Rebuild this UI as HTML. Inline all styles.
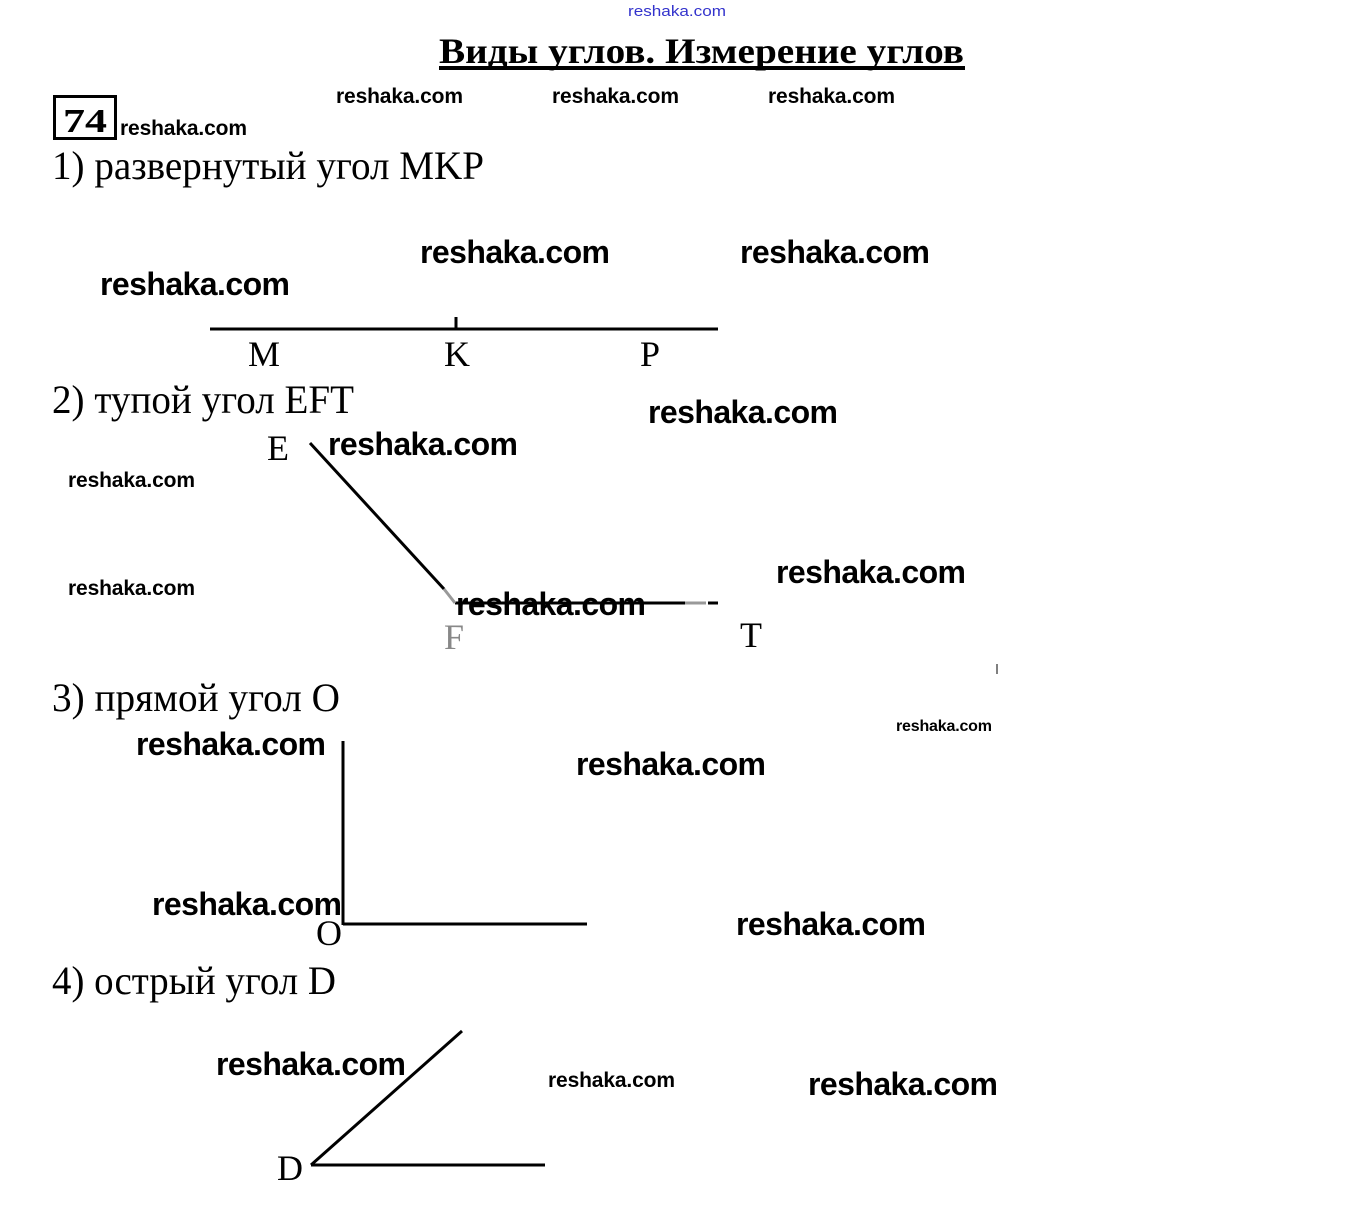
<!DOCTYPE html>
<html><head><meta charset="utf-8"><style>body{margin:0;background:#fff}svg{display:block}
.s{font-family:"Liberation Serif",serif;fill:#000}
.w{font-family:"Liberation Sans",sans-serif;font-weight:bold;fill:#000}
</style></head><body>
<svg width="1352" height="1225" viewBox="0 0 1352 1225" xmlns="http://www.w3.org/2000/svg">
<text x="628" y="16" font-family="Liberation Sans,sans-serif" font-size="15" fill="#3333cc" textLength="98" lengthAdjust="spacingAndGlyphs">reshaka.com</text>
<text class="s" x="439" y="63" font-size="36" font-weight="bold" textLength="525" lengthAdjust="spacingAndGlyphs">Виды углов. Измерение углов</text>
<rect x="439" y="66" width="526" height="4" fill="#000"/>
<rect x="54.5" y="96.5" width="61" height="42" fill="none" stroke="#000" stroke-width="3"/>
<text class="s" x="63" y="132" font-size="34" font-weight="bold" textLength="44" lengthAdjust="spacingAndGlyphs">74</text>
<g class="s" font-size="40">
<text x="52" y="179" textLength="432" lengthAdjust="spacingAndGlyphs">1) развернутый угол MKP</text>
<text x="52" y="413" textLength="302" lengthAdjust="spacingAndGlyphs">2) тупой угол EFT</text>
<text x="52" y="711" textLength="288" lengthAdjust="spacingAndGlyphs">3) прямой угол O</text>
<text x="52" y="994" textLength="284" lengthAdjust="spacingAndGlyphs">4) острый угол D</text>
</g>
<g class="s" font-size="36">
<text x="248" y="366">M</text><text x="444" y="366">K</text><text x="640" y="366">P</text>
<text x="267" y="460">E</text><text x="444" y="649" fill="#888">F</text><text x="740" y="647">T</text>
<text x="316" y="945">O</text><text x="277" y="1180">D</text>
</g>
<g stroke="#000" stroke-width="3" fill="none">
<line x1="210" y1="329" x2="718" y2="329"/><line x1="456" y1="317" x2="456" y2="329"/>
<line x1="310" y1="443" x2="444" y2="589"/>
<line x1="455" y1="603" x2="685" y2="603"/><line x1="708" y1="603" x2="718" y2="603"/>
<line x1="343" y1="741" x2="343" y2="925"/><line x1="343" y1="924" x2="587" y2="924"/>
<line x1="311" y1="1165" x2="462" y2="1031"/><line x1="311" y1="1165" x2="545" y2="1165"/>
</g>
<g stroke="#999" stroke-width="3"><line x1="444" y1="589" x2="455" y2="603"/><line x1="685" y1="603" x2="706" y2="603"/></g>
<line x1="997" y1="664" x2="997" y2="674" stroke="#555" stroke-width="1.5"/>
<g class="w" font-size="21">
<text x="336" y="103" textLength="127">reshaka.com</text><text x="552" y="103" textLength="127">reshaka.com</text><text x="768" y="103" textLength="127">reshaka.com</text>
<text x="120" y="135" textLength="127">reshaka.com</text><text x="68" y="487" textLength="127">reshaka.com</text><text x="68" y="595" textLength="127">reshaka.com</text>
<text x="548" y="1087" textLength="127">reshaka.com</text>
<text x="896" y="731" font-size="16" textLength="96">reshaka.com</text>
</g>
<g class="w" font-size="32">
<text x="420" y="263" textLength="190">reshaka.com</text><text x="740" y="263" textLength="190">reshaka.com</text><text x="100" y="295" textLength="190">reshaka.com</text>
<text x="648" y="423" textLength="190">reshaka.com</text><text x="328" y="455" textLength="190">reshaka.com</text><text x="776" y="583" textLength="190">reshaka.com</text>
<text x="456" y="615" textLength="190">reshaka.com</text><text x="136" y="755" textLength="190">reshaka.com</text><text x="576" y="775" textLength="190">reshaka.com</text>
<text x="152" y="915" textLength="190">reshaka.com</text><text x="736" y="935" textLength="190">reshaka.com</text><text x="216" y="1075" textLength="190">reshaka.com</text>
<text x="808" y="1095" textLength="190">reshaka.com</text>
</g>
</svg>
</body></html>
